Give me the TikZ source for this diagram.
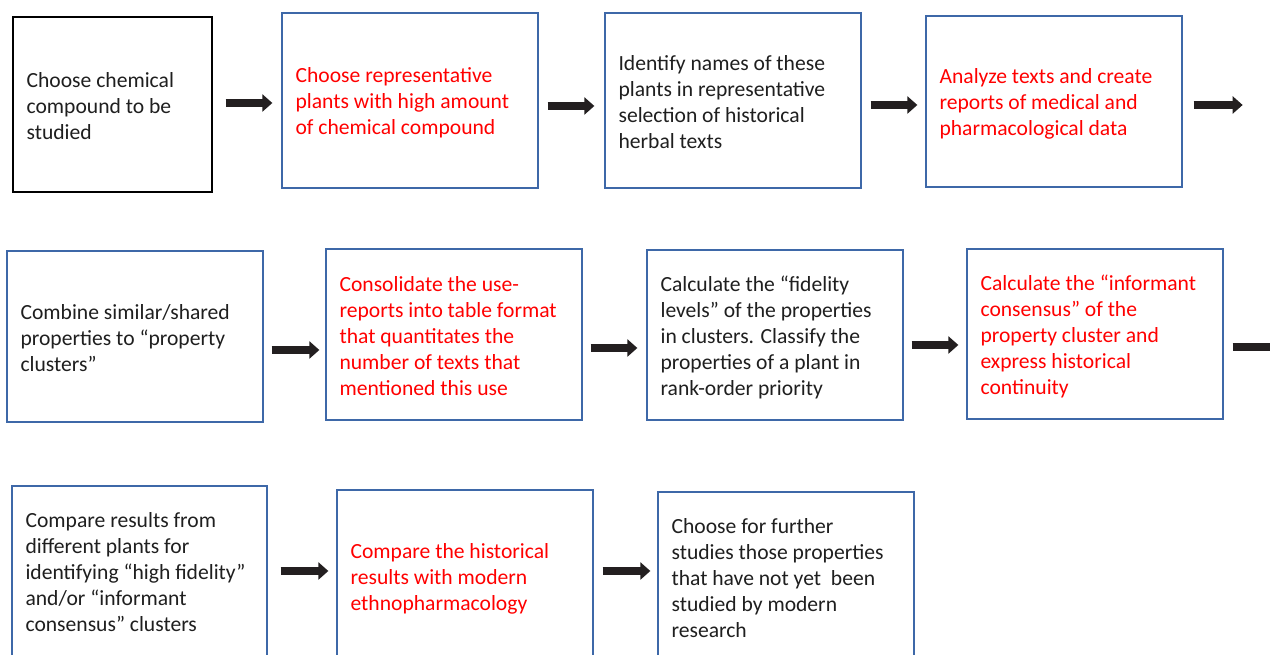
\documentclass[tikz,border=0pt]{standalone}
\usepackage{fontspec}
\setmainfont{Carlito}
\usetikzlibrary{arrows.meta}
\definecolor{boxblue}{RGB}{62,104,168}
\definecolor{arrowdark}{RGB}{35,31,32}
\definecolor{txtred}{RGB}{255,0,0}
\begin{document}
\begin{tikzpicture}[x=1pt,y=1pt,
  box/.style={draw=boxblue, line width=1.3pt, minimum width=256pt, minimum height=171pt, inner sep=0pt},
  blackbox/.style={box, draw=black, line width=1.2pt},
  txt/.style={anchor=west, align=left, inner sep=0pt, yshift=-2pt, font=\fontsize{21.6}{26}\selectfont, text=black!88},
  redtxt/.style={txt, text=txtred},
  arr/.style={draw=arrowdark, line width=7.5pt, -{Triangle[length=10pt,width=17pt]}},
  arrnohead/.style={draw=arrowdark, line width=7.5pt}
]
\useasboundingbox (0,0) rectangle (1270,655);
\clip (0,0) rectangle (1270,655);
\fill[white] (0,0) rectangle (1270,655);

% Row 1
\node[blackbox, minimum width=199pt, minimum height=175pt] (b1) at (112.5,550.5) {};
\node[box, minimum height=175pt] (b2) at (410,554.5) {};
\node[box, minimum height=175pt] (b3) at (733,554.5) {};
\node[box] (b4) at (1054,553.5) {};
\node[txt] (t1) at ([xshift=14pt]b1.west) {Choose chemical\\compound to be\\studied};
\node[redtxt] (t2) at ([xshift=14pt]b2.west) {Choose representative\\plants with high amount\\of chemical compound};
\node[txt] (t3) at ([xshift=14pt]b3.west) {Identify names of these\\plants in representative\\selection of historical\\herbal texts};
\node[redtxt] (t4) at ([xshift=14pt]b4.west) {Analyze texts and create\\reports of medical and\\pharmacological data};

% Row 2
\node[box] (b5) at (135,318.5) {};
\node[box] (b6) at (454,320.5) {};
\node[box, minimum height=170pt] (b7) at (775,320) {};
\node[box, minimum height=170pt] (b8) at (1095,321) {};
\node[txt] (t5) at ([xshift=14pt]b5.west) {Combine similar/shared\\properties to “property\\clusters”};
\node[redtxt] (t6) at ([xshift=14pt]b6.west) {Consolidate the use-\\reports into table format\\that quantitates the\\number of texts that\\mentioned this use};
\node[txt] (t7) at ([xshift=14pt]b7.west) {Calculate the “fidelity\\levels” of the properties\\in clusters. Classify the\\properties of a plant in\\rank-order priority};
\node[redtxt] (t8) at ([xshift=14pt]b8.west) {Calculate the “informant\\consensus” of the\\property cluster and\\express historical\\continuity};

% Row 3
\node[box, minimum width=255pt, minimum height=184pt] (b9) at (139.5,77) {};
\node[box, minimum height=180pt] (b10) at (465,75) {};
\node[box, minimum height=178pt] (b11) at (786,74) {};
\node[txt] (t9) at ([shift={(14pt,7.5pt)}]b9.west) {Compare results from\\different plants for\\identifying “high fidelity”\\and/or “informant\\consensus” clusters};
\node[redtxt] (t10) at ([shift={(14pt,3pt)}]b10.west) {Compare the historical\\results with modern\\ethnopharmacology};
\node[txt] (t11) at ([shift={(14pt,4.5pt)}]b11.west) {Choose for further\\studies those properties\\that have not yet\ \ been\\studied by modern\\research};

% arrow start points and free ends
\coordinate (s1) at ([shift={(13pt,1.5pt)}]b1.east);
\coordinate (s2) at ([shift={(9pt,-5.5pt)}]b2.east);
\coordinate (s3) at ([shift={(9pt,-4.5pt)}]b3.east);
\coordinate (s4) at ([shift={(11pt,-3.5pt)}]b4.east);
\coordinate (s5) at ([shift={(8pt,-13.5pt)}]b5.east);
\coordinate (s6) at ([shift={(8pt,-13.5pt)}]b6.east);
\coordinate (s7) at ([shift={(8pt,-10pt)}]b7.east);
\coordinate (s8) at ([shift={(9pt,-13pt)}]b8.east);
\coordinate (s9) at ([shift={(13pt,7pt)}]b9.east);
\coordinate (s10) at ([shift={(9pt,9pt)}]b10.east);
\coordinate (e1) at ([xshift=49pt]s4);
\coordinate (e2) at ([xshift=60pt]s8);

% Arrows
\draw[arr, shorten >=9pt] (s1) -- (s1 -| b2.west);
\draw[arr, shorten >=10pt] (s2) -- (s2 -| b3.west);
\draw[arr, shorten >=8pt] (s3) -- (s3 -| b4.west);
\draw[arr] (s4) -- (e1);
\draw[arr, shorten >=6pt] (s5) -- (s5 -| b6.west);
\draw[arr, shorten >=9pt] (s6) -- (s6 -| b7.west);
\draw[arr, shorten >=8pt] (s7) -- (s7 -| b8.west);
\draw[arrnohead] (s8) -- (e2);
\draw[arr, shorten >=8pt] (s9) -- (s9 -| b10.west);
\draw[arr, shorten >=7pt] (s10) -- (s10 -| b11.west);
\end{tikzpicture}
\end{document}
